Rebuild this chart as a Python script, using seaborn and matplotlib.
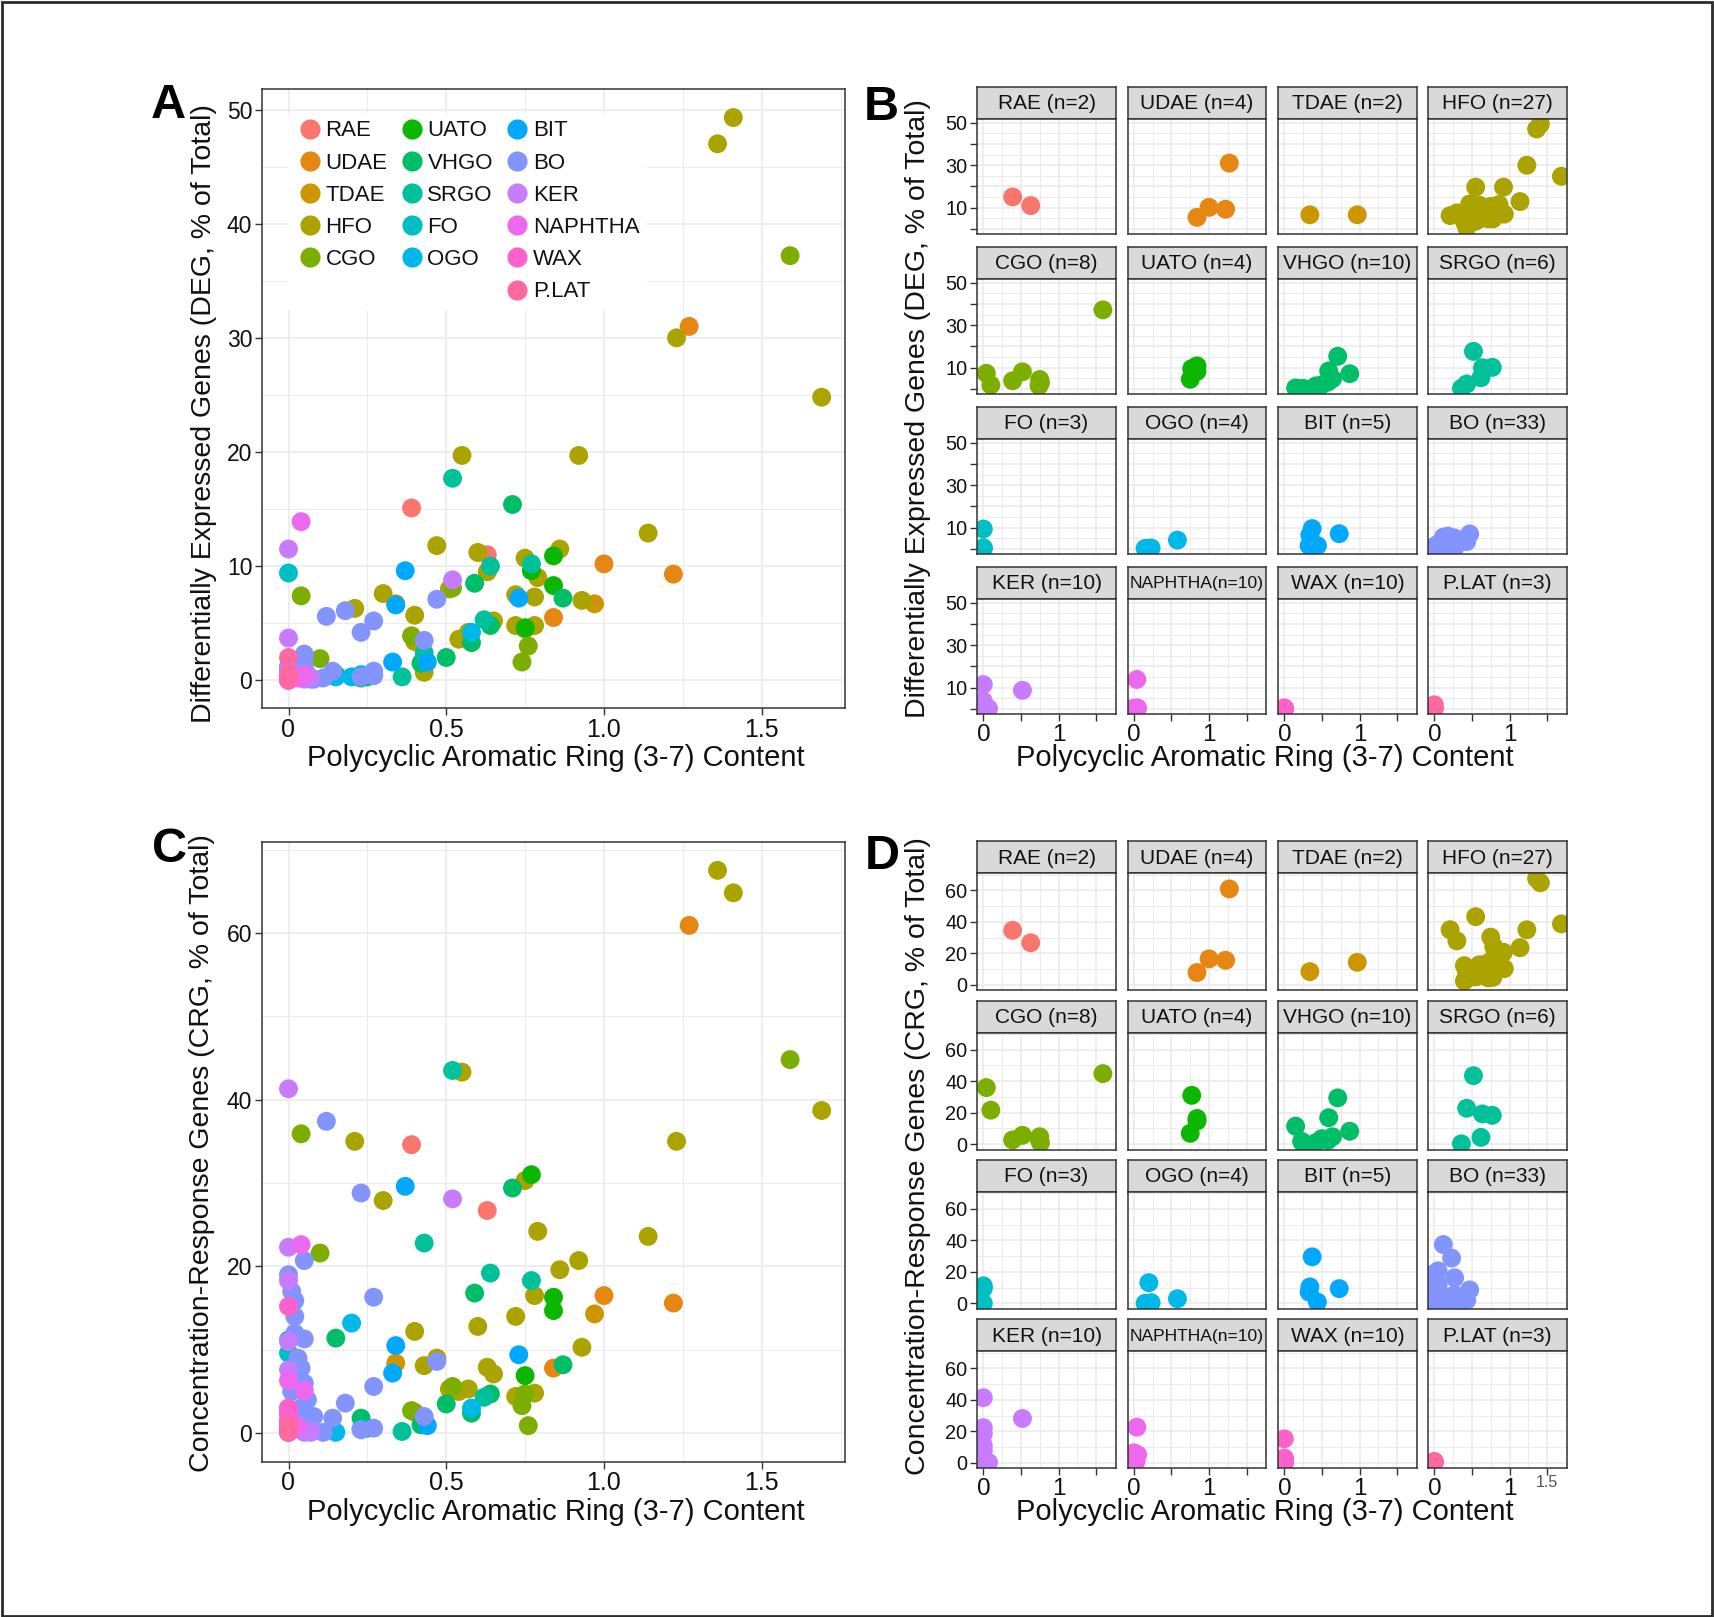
import numpy as np
import pandas as pd
import matplotlib
matplotlib.use("Agg")
import matplotlib.pyplot as plt
import seaborn as sns
from matplotlib.lines import Line2D
from matplotlib.patches import Rectangle
from matplotlib.ticker import FixedLocator, FixedFormatter

sns.set_theme(style="white")
plt.rcParams["font.family"] = ["Liberation Sans", "DejaVu Sans"]

# ---------------- data ----------------
GROUPS = ["RAE", "UDAE", "TDAE", "HFO", "CGO", "UATO", "VHGO", "SRGO",
          "FO", "OGO", "BIT", "BO", "KER", "NAPHTHA", "WAX", "P.LAT"]
N_SAMPLES = [2, 4, 2, 27, 8, 4, 10, 6, 3, 4, 5, 33, 10, 10, 10, 3]

X = {
    "RAE": [0.39, 0.63],
    "UDAE": [0.84, 1.00, 1.22, 1.27],
    "TDAE": [0.34, 0.97],
    "HFO": [1.36, 1.41, 1.23, 1.69, 0.55, 0.92, 1.14, 0.47, 0.60, 0.86, 0.75, 0.79, 0.51, 0.63,
            0.72, 0.78, 0.93, 0.30, 0.21, 0.40, 0.54, 0.57, 0.72, 0.78, 0.40, 0.43, 0.65],
    "CGO": [0.04, 0.10, 0.39, 0.52, 0.75, 0.74, 0.76, 1.59],
    "UATO": [0.77, 0.84, 0.84, 0.75],
    "VHGO": [0.15, 0.23, 0.25, 0.42, 0.58, 0.59, 0.64, 0.71, 0.87, 0.50],
    "SRGO": [0.52, 0.43, 0.64, 0.77, 0.62, 0.36],
    "FO": [0.0, 0.0, 0.0],
    "OGO": [0.15, 0.20, 0.23, 0.58],
    "BIT": [0.37, 0.34, 0.73, 0.33, 0.44],
    "BO": [0.12, 0.23, 0.05, 0.02, 0.27, 0.05, 0.04, 0.27, 0.18, 0.43, 0.14, 0.07, 0.11, 0.23,
           0.27, 0.47, 0.02, 0.05, 0.0, 0.0, 0.0, 0.01, 0.02, 0.03, 0.05, 0.06, 0.08, 0.0,
           0.0, 0.02, 0.04, 0.0, 0.01],
    "KER": [0.0, 0.52, 0.0, 0.0, 0.0, 0.0, 0.07, 0.05, 0.0, 0.0],
    "NAPHTHA": [0.04, 0.0, 0.05, 0.0, 0.0, 0.0, 0.0, 0.0, 0.03, 0.0],
    "WAX": [0.0, 0.0, 0.0, 0.0, 0.0, 0.0, 0.0, 0.0, 0.0, 0.0],
    "P.LAT": [0.0, 0.0, 0.0],
}
DEG = {
    "RAE": [15.1, 11.0],
    "UDAE": [5.5, 10.2, 9.3, 31.0],
    "TDAE": [6.7, 6.7],
    "HFO": [47.0, 49.3, 30.0, 24.8, 19.7, 19.7, 12.9, 11.8, 11.2, 11.5, 10.7, 9.0, 8.0, 9.5,
            7.5, 7.3, 7.0, 7.6, 6.3, 5.7, 3.6, 4.2, 4.8, 4.8, 3.4, 0.7, 5.2],
    "CGO": [7.4, 1.9, 3.9, 8.1, 4.5, 1.6, 3.0, 37.2],
    "UATO": [9.6, 10.9, 8.3, 4.6],
    "VHGO": [0.5, 0.2, 0.3, 1.5, 3.3, 8.5, 4.8, 15.4, 7.2, 2.0],
    "SRGO": [17.7, 2.4, 10.0, 10.2, 5.3, 0.3],
    "FO": [9.4, 0.6, 0.2],
    "OGO": [0.3, 0.3, 0.5, 4.2],
    "BIT": [9.6, 6.6, 7.2, 1.6, 1.6],
    "BO": [5.6, 4.2, 2.3, 1.6, 5.2, 1.2, 0.8, 0.8, 6.1, 3.5, 0.8, 0.1, 0.2, 0.3, 0.4, 7.1, 1.0,
           2.0, 0.5, 1.2, 0.2, 0.4, 0.9, 1.5, 0.3, 0.5, 0.1, 0.7, 0.3, 0.6, 1.1, 0.9, 0.2],
    "KER": [11.5, 8.8, 3.7, 0.5, 1.0, 0.2, 0.2, 0.1, 0.3, 0.8],
    "NAPHTHA": [13.9, 0.3, 0.5, 0.1, 0.2, 0.0, 0.4, 0.1, 0.2, 0.1],
    "WAX": [0.5, 0.3, 0.1, 0.2, 0.0, 0.4, 0.1, 0.2, 0.3, 0.1],
    "P.LAT": [2.0, 0.5, 0.2],
}
CRG = {
    "RAE": [34.6, 26.7],
    "UDAE": [7.8, 16.5, 15.6, 60.9],
    "TDAE": [8.4, 14.3],
    "HFO": [67.5, 64.8, 35.0, 38.7, 43.3, 20.7, 23.6, 9.0, 12.8, 19.6, 30.3, 24.2, 5.3, 7.9,
            14.0, 16.5, 10.3, 27.9, 35.0, 12.2, 5.0, 5.3, 4.4, 4.8, 2.5, 8.1, 7.1],
    "CGO": [35.9, 21.6, 2.7, 5.6, 4.7, 3.3, 0.9, 44.8],
    "UATO": [31.0, 16.3, 14.7, 6.9],
    "VHGO": [11.4, 1.8, 0.6, 1.0, 2.4, 16.8, 4.7, 29.4, 8.2, 3.5],
    "SRGO": [43.5, 22.8, 19.2, 18.3, 4.3, 0.2],
    "FO": [11.2, 9.6, 0.1],
    "OGO": [0.1, 13.2, 0.5, 3.0],
    "BIT": [29.6, 10.5, 9.4, 7.2, 0.9],
    "BO": [37.4, 28.8, 20.7, 15.9, 16.3, 11.3, 7.8, 5.6, 3.6, 2.0, 1.8, 0.1, 0.1, 0.4, 0.6, 8.6,
           0.5, 1.2, 0.3, 2.5, 19.0, 17.0, 14.0, 9.0, 6.0, 4.0, 2.0, 1.0, 0.6, 12.0, 3.0, 0.8, 5.0],
    "KER": [41.3, 28.1, 22.3, 18.3, 11.0, 7.6, 0.2, 0.1, 3.0, 1.5],
    "NAPHTHA": [22.6, 6.3, 5.1, 2.5, 1.0, 0.5, 0.2, 0.1, 0.8, 1.5],
    "WAX": [15.2, 2.3, 1.0, 0.5, 0.2, 3.0, 1.5, 0.1, 0.8, 0.3],
    "P.LAT": [0.9, 0.5, 0.2],
}

X_LABEL = "Polycyclic Aromatic Ring (3-7) Content"
DEG_LABEL = "Differentially Expressed Genes (DEG, % of Total)"
CRG_LABEL = "Concentration-Response Genes (CRG, % of Total)"


# ---------------- colours (ggplot2 hue palette) ----------------
def hcl_hex(h, c=100.0, l=65.0):
    hr = np.deg2rad(h)
    U, V = c * np.cos(hr), c * np.sin(hr)
    Xn, Yn, Zn = 95.047, 100.0, 108.883
    Y = Yn * ((l + 16) / 116) ** 3 if l > 8 else Yn * l / 903.3
    t = Xn + 15 * Yn + 3 * Zn
    un, vn = 4 * Xn / t, 9 * Yn / t
    u, v = U / (13 * l) + un, V / (13 * l) + vn
    Xv = 9 * Y * u / (4 * v)
    Zv = -Xv / 3 - 5 * Y + 3 * Y / v
    Xv, Y, Zv = Xv / 100, Y / 100, Zv / 100
    rgb = [3.240479 * Xv - 1.537150 * Y - 0.498535 * Zv,
           -0.969256 * Xv + 1.875992 * Y + 0.041556 * Zv,
           0.055648 * Xv - 0.204043 * Y + 1.057311 * Zv]
    out = []
    for ch in rgb:
        ch = 12.92 * ch if ch <= 0.0031308 else 1.055 * max(ch, 0) ** (1 / 2.4) - 0.055
        out.append(min(1.0, max(0.0, ch)))
    return tuple(out)


hues = np.linspace(15, 375, len(GROUPS) + 1)[:-1]
palette = {g: hcl_hex(h) for g, h in zip(GROUPS, hues)}

rows = []
for g in GROUPS:
    for xv, dv, cv in zip(X[g], DEG[g], CRG[g]):
        rows.append((g, xv, dv, cv))
df = pd.DataFrame(rows, columns=["group", "x", "deg", "crg"])

# ---------------- figure ----------------
W, H = 1714, 1617
fig = plt.figure(figsize=(W / 100, H / 100), dpi=100)
fig.patch.set_facecolor("white")


def add_ax(left, top, right, bottom):
    return fig.add_axes([left / W, 1 - bottom / H, (right - left) / W, (bottom - top) / H])


XLIM = (-0.084, 1.764)
DEG_LIM = (-2.47, 51.8)
CRG_LIM = (-3.4, 70.9)
GRID_C = "#EBEBEB"
BORDER_C = "#333333"
TXT_C = "#111111"
PT = 185


def style(ax, xlim, ylim, xmaj, xlab, xmin, ymaj, ylab, ymin, show_x=True, show_y=True,
          xfs=18, yfs=16.5):
    ax.set_xlim(xlim)
    ax.set_ylim(ylim)
    ax.set_facecolor("white")
    ax.xaxis.set_major_locator(FixedLocator(xmaj))
    ax.xaxis.set_minor_locator(FixedLocator(xmin))
    ax.yaxis.set_major_locator(FixedLocator(ymaj))
    ax.yaxis.set_minor_locator(FixedLocator(ymin))
    ax.xaxis.set_major_formatter(FixedFormatter(xlab))
    ax.yaxis.set_major_formatter(FixedFormatter(ylab))
    ax.grid(which="major", color=GRID_C, lw=1.2)
    ax.grid(which="minor", color=GRID_C, lw=0.7)
    ax.set_axisbelow(True)
    for s in ax.spines.values():
        s.set_color(BORDER_C)
        s.set_linewidth(1.1)
    ax.tick_params(which="major", direction="out", length=5, width=1.0, color=BORDER_C,
                   labelcolor=TXT_C, pad=2,
                   bottom=show_x, labelbottom=show_x, left=show_y, labelleft=show_y)
    ax.tick_params(axis="x", labelsize=xfs)
    ax.tick_params(axis="y", labelsize=yfs)
    ax.tick_params(which="minor", length=0)
    ax.set_xlabel("")
    ax.set_ylabel("")


XMAJ = [0, 0.5, 1.0, 1.5]
XMIN = [0.25, 0.75, 1.25, 1.75]

# ---------- Panel A ----------
axA = add_ax(262, 89, 845, 708.5)
sns.scatterplot(data=df, x="x", y="deg", hue="group", hue_order=GROUPS, palette=palette,
                s=PT, linewidth=0, alpha=1, legend=False, ax=axA)
style(axA, XLIM, DEG_LIM, XMAJ, ["0", "0.5", "1.0", "1.5"], XMIN,
      [0, 10, 20, 30, 40, 50], ["0", "10", "20", "30", "40", "50"], [5, 15, 25, 35, 45])

# legend: columns of 5, 5, 6
handles, labels = [], []
cols = [GROUPS[0:5], GROUPS[5:10], GROUPS[10:16]]
for col in cols:
    for i in range(6):
        if i < len(col):
            g = col[i]
            handles.append(Line2D([], [], marker="o", ls="", markersize=14.5,
                                  markerfacecolor=palette[g], markeredgewidth=0))
            labels.append(g)
        else:
            handles.append(Line2D([], [], ls="", marker=None))
            labels.append("")
leg = axA.legend(handles, labels, ncol=3, loc="upper left", bbox_to_anchor=(0.044, 0.962),
                 frameon=True, fancybox=False, framealpha=1, facecolor="white",
                 edgecolor="none", fontsize=16, handletextpad=0.05, columnspacing=0.45,
                 labelspacing=0.505, handlelength=1.3, borderpad=0.35, borderaxespad=0)
for t in leg.get_texts():
    t.set_color(TXT_C)

# ---------- Panel C ----------
axC = add_ax(262, 842, 845, 1461.5)
sns.scatterplot(data=df, x="x", y="crg", hue="group", hue_order=GROUPS, palette=palette,
                s=PT, linewidth=0, alpha=1, legend=False, ax=axC)
style(axC, XLIM, CRG_LIM, XMAJ, ["0", "0.5", "1.0", "1.5"], XMIN,
      [0, 20, 40, 60], ["0", "20", "40", "60"], [10, 30, 50, 70])

# ---------- facets ----------
COL_LEFT = [977, 1127.5, 1278, 1428]
PANEL_W = 139
STRIP_H = 32


def facet_grid(strip_top0, pitch, panel_h, ycol, ylim, ymaj, ylab, ymin):
    axes = []
    for k, g in enumerate(GROUPS):
        r, c = divmod(k, 4)
        left = COL_LEFT[c]
        st = strip_top0 + pitch * r
        sax = add_ax(left, st, left + PANEL_W, st + STRIP_H)
        sax.set_facecolor("#D9D9D9")
        sax.set_xticks([])
        sax.set_yticks([])
        for s in sax.spines.values():
            s.set_color(BORDER_C)
            s.set_linewidth(1.1)
        if g == "NAPHTHA":
            sax.text(0.5, 0.47, f"{g}(n={N_SAMPLES[k]})", ha="center", va="center",
                     fontsize=12.6, color=TXT_C, transform=sax.transAxes)
        else:
            sax.text(0.5, 0.47, f"{g} (n={N_SAMPLES[k]})", ha="center", va="center",
                     fontsize=15, color=TXT_C, transform=sax.transAxes)
        ax = add_ax(left, st + STRIP_H, left + PANEL_W, st + STRIP_H + panel_h)
        sub = df[df["group"] == g]
        sns.scatterplot(data=sub, x="x", y=ycol, hue="group", hue_order=GROUPS,
                        palette=palette, s=PT, linewidth=0, alpha=1, legend=False, ax=ax)
        style(ax, XLIM, ylim, XMAJ, ["0", "", "1", ""], XMIN, ymaj, ylab, ymin,
              show_x=(r == 3), show_y=(c == 0), xfs=17.5, yfs=14.3)
        axes.append(ax)
    return axes


axesB = facet_grid(86.8, 160.0, 115.5, "deg", DEG_LIM,
                   [0, 10, 20, 30, 40, 50], ["", "10", "", "30", "", "50"],
                   [5, 15, 25, 35, 45])
axesD = facet_grid(841.2, 159.3, 117.0, "crg", CRG_LIM,
                   [0, 20, 40, 60], ["0", "20", "40", "60"], [10, 30, 50, 70])

# stray small "1.5" label under the last facet of D
last = axesD[-1]
last.text(1.5, -0.055, "1.5", transform=last.get_xaxis_transform(), ha="center", va="top",
          fontsize=11.5, color="#555555")

# ---------- shared labels ----------
LAB_FS = 21
fig.text(556 / W, 1 - 757.5 / H, X_LABEL, ha="center", va="center", fontsize=LAB_FS, color=TXT_C)
fig.text(1265 / W, 1 - 757.5 / H, X_LABEL, ha="center", va="center", fontsize=LAB_FS, color=TXT_C)
fig.text(556 / W, 1 - 1512 / H, X_LABEL, ha="center", va="center", fontsize=LAB_FS, color=TXT_C)
fig.text(1265 / W, 1 - 1512 / H, X_LABEL, ha="center", va="center", fontsize=LAB_FS, color=TXT_C)
fig.text(204 / W, 1 - 414 / H, DEG_LABEL, rotation=90, ha="center", va="center",
         fontsize=20.5, color=TXT_C)
fig.text(918 / W, 1 - 409 / H, DEG_LABEL, rotation=90, ha="center", va="center",
         fontsize=20.5, color=TXT_C)
fig.text(202 / W, 1 - 1153 / H, CRG_LABEL, rotation=90, ha="center", va="center",
         fontsize=20.5, color=TXT_C)
fig.text(918 / W, 1 - 1156 / H, CRG_LABEL, rotation=90, ha="center", va="center",
         fontsize=20.5, color=TXT_C)

# panel letters
for letter, (px, py) in {"A": (168, 105), "B": (881, 108), "C": (170, 849), "D": (882, 856)}.items():
    fig.text(px / W, 1 - py / H, letter, ha="center", va="center", fontsize=35,
             fontweight="bold", color="black")

# outer frame
fig.patches.append(Rectangle((1.5 / W, 1.5 / H), (W - 3.5) / W, (H - 3.5) / H,
                             transform=fig.transFigure, fill=False, edgecolor="#2b2b2b",
                             linewidth=2.0, zorder=10))

fig.savefig("out.png", dpi=100, facecolor="white")
